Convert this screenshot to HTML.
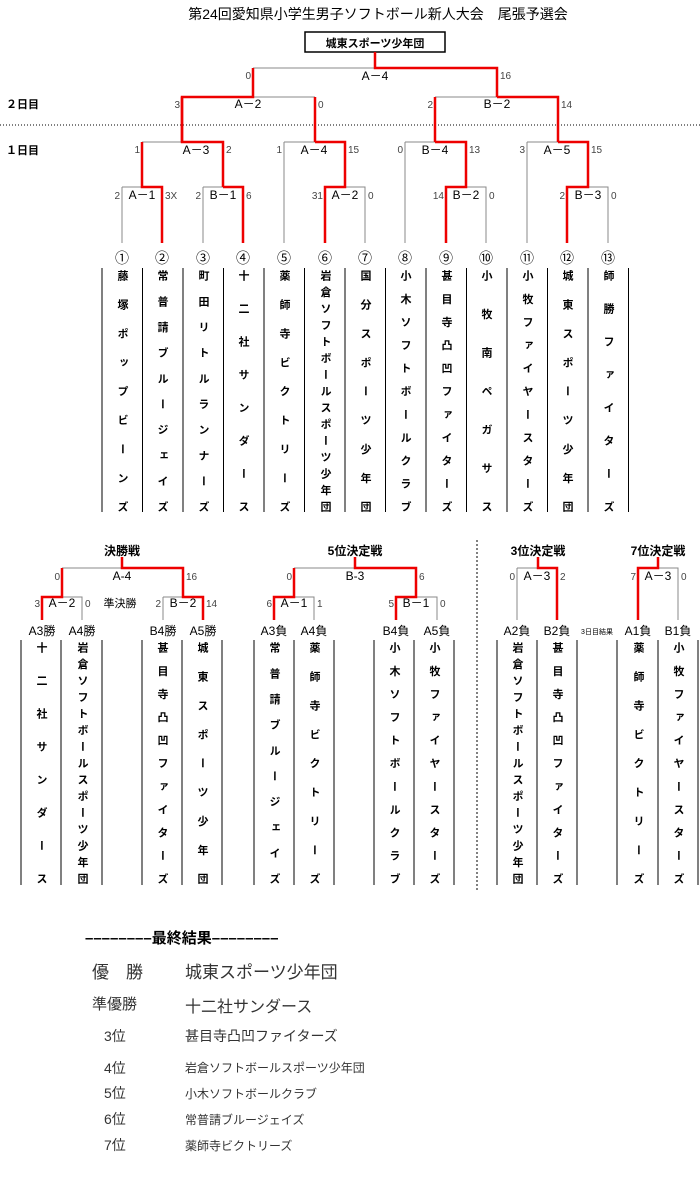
<!DOCTYPE html>
<html><head><meta charset="utf-8"><style>
html,body{margin:0;padding:0;background:#fff;}
#w{position:relative;width:700px;height:1181px;overflow:hidden;font-family:"Liberation Sans","Noto Sans CJK JP",sans-serif;}
svg{position:absolute;left:0;top:0;}
.col{position:absolute;width:20px;writing-mode:vertical-rl;text-orientation:upright;font-size:11px;font-weight:bold;text-align:justify;text-align-last:justify;line-height:20px;color:#000;}
.t{position:absolute;white-space:nowrap;color:#000;}
</style></head><body><div id="w">
<svg width="700" height="1181" font-family="Liberation Sans, Noto Sans CJK JP, sans-serif" font-size="11" fill="#000">
<text x="378" y="19" text-anchor="middle" font-size="14">第24回愛知県小学生男子ソフトボール新人大会　尾張予選会</text>
<rect x="305" y="32" width="140" height="20" fill="none" stroke="#000" stroke-width="1.5"/>
<text x="375" y="47" text-anchor="middle" font-size="11" font-weight="bold">城東スポーツ少年団</text>
<text x="6" y="108" font-size="11" font-weight="bold">２日目</text>
<text x="6" y="154" font-size="11" font-weight="bold">１日目</text>
<line x1="0" y1="125" x2="700" y2="125" stroke="#000" stroke-dasharray="1,2"/>
<g stroke="#888" stroke-width="1" fill="none">
<path d="M253 68H375M253 68V97"/>
<path d="M253 97H315M182 97V97"/>
<path d="M435 97H497"/>
<path d="M142 142H182"/>
<path d="M284 142H315M284 142V243"/>
<path d="M405 142H435M405 142V243"/>
<path d="M527 142H558M527 142V243"/>
<path d="M122 187H142M122 187V243"/>
<path d="M203 187H223M203 187V243"/>
<path d="M345 187H365V243"/>
<path d="M466 187H486V243"/>
<path d="M588 187H608V243"/>
<path d="M42 597V597M62 568H122M62 597H82V620M163 597H183M163 597V620"/>
<path d="M294 568H355M294 597H314V620M396 597H396M416 568H416M416 597H437V620"/>
<path d="M517 568H538M517 568V620"/>
<path d="M658 568H678V620"/>
</g>
<g stroke="#e00" stroke-width="2.5" fill="none">
<path d="M375 52V68H497V97"/>
<path d="M253 68V97H182V142"/>
<path d="M315 97V142"/>
<path d="M497 97H558V142"/>
<path d="M435 97V142"/>
<path d="M182 97V142H223V187"/>
<path d="M142 142V187H162V243"/>
<path d="M223 187H243V243"/>
<path d="M315 142H345V187H325V243"/>
<path d="M435 142H466V187H446V243"/>
<path d="M558 142H588V187H567V243"/>
<path d="M122 557V568H183V597H203V620"/>
<path d="M62 568V597H42V620"/>
<path d="M355 557V568H416V597H396V620"/>
<path d="M294 568V597H274V620"/>
<path d="M538 557V568H557V620"/>
<path d="M658 557V568H638V620"/>
</g>
<g font-size="10" fill="#444">
<text x="251" y="79" text-anchor="end">0</text><text x="500" y="79">16</text>
<text x="180" y="108" text-anchor="end">3</text><text x="318" y="108">0</text>
<text x="433" y="108" text-anchor="end">2</text><text x="561" y="108">14</text>
<text x="140" y="153" text-anchor="end">1</text><text x="226" y="153">2</text>
<text x="282" y="153" text-anchor="end">1</text><text x="348" y="153">15</text>
<text x="403" y="153" text-anchor="end">0</text><text x="469" y="153">13</text>
<text x="525" y="153" text-anchor="end">3</text><text x="591" y="153">15</text>
<text x="120" y="199" text-anchor="end">2</text><text x="165" y="199">3X</text>
<text x="201" y="199" text-anchor="end">2</text><text x="246" y="199">6</text>
<text x="323" y="199" text-anchor="end">31</text><text x="368" y="199">0</text>
<text x="444" y="199" text-anchor="end">14</text><text x="489" y="199">0</text>
<text x="565" y="199" text-anchor="end">2</text><text x="611" y="199">0</text>
<text x="60" y="580" text-anchor="end">0</text><text x="186" y="580">16</text>
<text x="40" y="607" text-anchor="end">3</text><text x="85" y="607">0</text>
<text x="161" y="607" text-anchor="end">2</text><text x="206" y="607">14</text>
<text x="292" y="580" text-anchor="end">0</text><text x="419" y="580">6</text>
<text x="272" y="607" text-anchor="end">6</text><text x="317" y="607">1</text>
<text x="394" y="607" text-anchor="end">5</text><text x="440" y="607">0</text>
<text x="515" y="580" text-anchor="end">0</text><text x="560" y="580">2</text>
<text x="636" y="580" text-anchor="end">7</text><text x="681" y="580">0</text>
</g>
<g font-size="12" text-anchor="middle">
<text x="375" y="80">A－4</text>
<text x="248" y="108">A－2</text><text x="497" y="108">B－2</text>
<text x="196" y="154">A－3</text><text x="314" y="154">A－4</text><text x="435" y="154">B－4</text><text x="557" y="154">A－5</text>
<text x="142" y="199">A－1</text><text x="223" y="199">B－1</text><text x="345" y="199">A－2</text><text x="466" y="199">B－2</text><text x="588" y="199">B－3</text>
<text x="122" y="580">A-4</text><text x="62" y="607">A－2</text><text x="183" y="607">B－2</text>
<text x="355" y="580">B-3</text><text x="294" y="607">A－1</text><text x="416" y="607">B－1</text>
<text x="537" y="580">A－3</text><text x="658" y="580">A－3</text>
<text x="120" y="607" font-size="11">準決勝</text>
</g>
<g font-size="12" text-anchor="middle" font-weight="bold">
<text x="122" y="555">決勝戦</text><text x="355" y="555">5位決定戦</text><text x="538" y="555">3位決定戦</text><text x="658" y="555">7位決定戦</text>
</g>
<g font-size="12" text-anchor="middle">
<text x="42" y="635">A3勝</text><text x="82" y="635">A4勝</text><text x="163" y="635">B4勝</text><text x="203" y="635">A5勝</text>
<text x="274" y="635">A3負</text><text x="314" y="635">A4負</text><text x="396" y="635">B4負</text><text x="437" y="635">A5負</text>
<text x="517" y="635">A2負</text><text x="557" y="635">B2負</text><text x="597" y="634" font-size="7">3日目結果</text><text x="638" y="635">A1負</text><text x="678" y="635">B1負</text>
</g>
<g font-size="14" text-anchor="middle">
<text x="122" y="263">①</text><text x="162" y="263">②</text><text x="203" y="263">③</text><text x="243" y="263">④</text><text x="284" y="263">⑤</text><text x="325" y="263">⑥</text><text x="365" y="263">⑦</text><text x="405" y="263">⑧</text><text x="446" y="263">⑨</text><text x="486" y="263">⑩</text><text x="527" y="263">⑪</text><text x="567" y="263">⑫</text><text x="608" y="263">⑬</text>
</g>
<g stroke="#000" stroke-width="1">
<path d="M102 268V512M142.5 268V512M183 268V512M223.5 268V512M264 268V512M304.5 268V512M345 268V512M385.5 268V512M426 268V512M466.5 268V512M507 268V512M547.5 268V512M588 268V512M628.5 268V512"/>
<path d="M21 640V885M61 640V885M102 640V885M142 640V885M182 640V885M222 640V885M254 640V885M294 640V885M334 640V885M374 640V885M414 640V885M454 640V885M497 640V885M537 640V885M577 640V885M617 640V885M658 640V885M698 640V885"/>
</g>
<line x1="477" y1="540" x2="477" y2="890" stroke="#000" stroke-dasharray="2,2"/>
</svg>

<div class="col" style="left:112px;top:270px;height:242px">藤塚ポップビーンズ</div>
<div class="col" style="left:152px;top:270px;height:242px">常普請ブルージェイズ</div>
<div class="col" style="left:193px;top:270px;height:242px">町田リトルランナーズ</div>
<div class="col" style="left:233px;top:270px;height:242px">十二社サンダース</div>
<div class="col" style="left:274px;top:270px;height:242px">薬師寺ビクトリーズ</div>
<div class="col" style="left:315px;top:270px;height:242px">岩倉ソフトボールスポーツ少年団</div>
<div class="col" style="left:355px;top:270px;height:242px">国分スポーツ少年団</div>
<div class="col" style="left:395px;top:270px;height:242px">小木ソフトボールクラブ</div>
<div class="col" style="left:436px;top:270px;height:242px">甚目寺凸凹ファイターズ</div>
<div class="col" style="left:476px;top:270px;height:242px">小牧南ペガサス</div>
<div class="col" style="left:517px;top:270px;height:242px">小牧ファイヤースターズ</div>
<div class="col" style="left:557px;top:270px;height:242px">城東スポーツ少年団</div>
<div class="col" style="left:598px;top:270px;height:242px">師勝ファイターズ</div>

<div class="col" style="left:31px;top:642px;height:242px">十二社サンダース</div>
<div class="col" style="left:72px;top:642px;height:242px">岩倉ソフトボールスポーツ少年団</div>
<div class="col" style="left:152px;top:642px;height:242px">甚目寺凸凹ファイターズ</div>
<div class="col" style="left:192px;top:642px;height:242px">城東スポーツ少年団</div>
<div class="col" style="left:264px;top:642px;height:242px">常普請ブルージェイズ</div>
<div class="col" style="left:304px;top:642px;height:242px">薬師寺ビクトリーズ</div>
<div class="col" style="left:384px;top:642px;height:242px">小木ソフトボールクラブ</div>
<div class="col" style="left:424px;top:642px;height:242px">小牧ファイヤースターズ</div>
<div class="col" style="left:507px;top:642px;height:242px">岩倉ソフトボールスポーツ少年団</div>
<div class="col" style="left:547px;top:642px;height:242px">甚目寺凸凹ファイターズ</div>
<div class="col" style="left:628px;top:642px;height:242px">薬師寺ビクトリーズ</div>
<div class="col" style="left:668px;top:642px;height:242px">小牧ファイヤースターズ</div>

<div class="t" style="left:85px;top:927px;font-size:15px;font-weight:bold;">––––––––最終結果––––––––</div>
<div class="t" style="left:92px;top:958px;font-size:17px;color:#333">優　勝</div>
<div class="t" style="left:185px;top:958px;font-size:17px;color:#333">城東スポーツ少年団</div>
<div class="t" style="left:92px;top:993px;font-size:15px;color:#333">準優勝</div>
<div class="t" style="left:185px;top:993px;font-size:16px;color:#333">十二社サンダース</div>
<div class="t" style="left:104px;top:1026px;font-size:14px;color:#333">3位</div>
<div class="t" style="left:185px;top:1026px;font-size:14px;color:#333">甚目寺凸凹ファイターズ</div>
<div class="t" style="left:104px;top:1058px;font-size:14px;color:#333">4位</div>
<div class="t" style="left:185px;top:1059px;font-size:12px;color:#333">岩倉ソフトボールスポーツ少年団</div>
<div class="t" style="left:104px;top:1083px;font-size:14px;color:#333">5位</div>
<div class="t" style="left:185px;top:1085px;font-size:12px;color:#333">小木ソフトボールクラブ</div>
<div class="t" style="left:104px;top:1109px;font-size:14px;color:#333">6位</div>
<div class="t" style="left:185px;top:1111px;font-size:12px;color:#333">常普請ブルージェイズ</div>
<div class="t" style="left:104px;top:1135px;font-size:14px;color:#333">7位</div>
<div class="t" style="left:185px;top:1137px;font-size:12px;color:#333">薬師寺ビクトリーズ</div>
</div></body></html>
